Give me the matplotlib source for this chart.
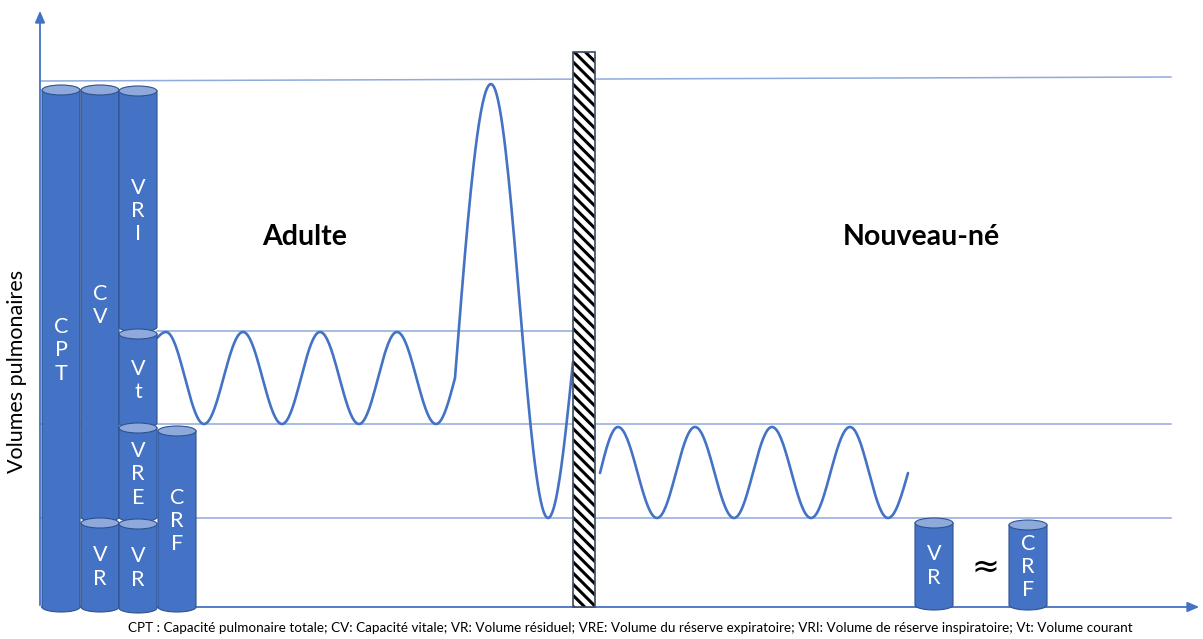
import numpy as np
import matplotlib
matplotlib.use("Agg")
import matplotlib.pyplot as plt
from matplotlib.patches import Polygon, Ellipse, Rectangle

plt.rcParams['font.family'] = ['Lato', 'DejaVu Sans']
plt.rcParams['hatch.linewidth'] = 2.2

BLUE = "#4472C4"
LIGHT = "#8FAADC"
TOPC = "#8EA9DB"
EDGE = "#2F528F"

# cylinders (labels, left edge, top, bottom) in picture units
cyl_labels = ["CPT", "CV", "VRI", "Vt", "VRE", "VR", "VR", "CRF", "VR", "CRF"]
cyl_left = [42, 81, 119, 119, 119, 81, 119, 158, 915, 1009]
cyl_top = [90, 90, 91, 334, 428, 523, 524, 431, 523, 525]
cyl_bottom = [607, 517, 327, 423, 517, 607, 608, 607, 605, 605]
cyl_w = 38
cap_h = 10

# breathing curves: key points (x, y, is_extremum)
adult_x = [157, 166, 204, 243, 282, 320, 359, 397, 436, 455, 491, 548, 573]
adult_y = [338, 332, 424, 332, 424, 332, 424, 332, 424, 378, 84, 518, 362]
adult_ext = [0, 1, 1, 1, 1, 1, 1, 1, 1, 0, 1, 1, 0]
baby_x = [600, 618, 657, 695, 734, 772, 811, 850, 888, 908]
baby_y = [473, 427, 518, 427, 518, 427, 518, 427, 518, 473]
baby_ext = [0, 1, 1, 1, 1, 1, 1, 1, 1, 0]

# reference lines: (x0, x1, y0, y1)
ref_lines = [(40, 1171, 81, 77), (157, 573, 331, 331),
             (40, 1171, 424, 424), (40, 1171, 518, 518)]

footnote = ("CPT : Capacité pulmonaire totale; CV: Capacité vitale; VR: Volume résiduel; "
            "VRE: Volume du réserve expiratoire; VRI: Volume de réserve inspiratoire; Vt: Volume courant")


def curve(xs, ys, ext):
    px, py = [], []
    for i in range(len(xs) - 1):
        t = np.linspace(0, 1, 40)
        a, b = ext[i], ext[i + 1]
        if a and b:
            s = (1 - np.cos(np.pi * t)) / 2
        elif a:
            s = 1 - np.cos(np.pi / 2 * t)
        elif b:
            s = np.sin(np.pi / 2 * t)
        else:
            s = t
        px += list(xs[i] + (xs[i + 1] - xs[i]) * t)
        py += list(ys[i] + (ys[i + 1] - ys[i]) * s)
    return px, py


def cylinder(ax, x0, top, bottom, label):
    cx = x0 + cyl_w / 2
    th = np.linspace(0, np.pi, 30)
    bot_arc = np.c_[cx - cyl_w / 2 * np.cos(th), bottom + cap_h / 2 * np.sin(th)]
    body = np.vstack([[x0, top], bot_arc, [x0 + cyl_w, top]])
    ax.add_patch(Polygon(body, closed=True, fc=BLUE, ec=EDGE, lw=0.8, zorder=4))
    ax.add_patch(Ellipse((cx, top), cyl_w, cap_h, fc=TOPC, ec=EDGE, lw=0.8, zorder=5))
    ax.text(cx, (top + bottom) / 2 + 2, "\n".join(label), color="white", fontsize=15.5,
            ha="center", va="center", linespacing=1.2, zorder=6)


fig = plt.figure(figsize=(12.03, 6.39), dpi=100)
ax = fig.add_axes([0, 0, 1, 1])
ax.set_xlim(0, 1203)
ax.set_ylim(639, 0)
ax.axis("off")

for x0, x1, y0, y1 in ref_lines:
    ax.plot([x0, x1], [y0, y1], color=LIGHT, lw=1.1, zorder=1)

for x0, top, bottom, lab in zip(cyl_left, cyl_top, cyl_bottom, cyl_labels):
    cylinder(ax, x0, top, bottom, lab)

for xs, ys, ex in [(adult_x, adult_y, adult_ext), (baby_x, baby_y, baby_ext)]:
    px, py = curve(xs, ys, ex)
    ax.plot(px, py, color=BLUE, lw=1.9, zorder=3, solid_capstyle="round")

# separator bar
ax.add_patch(Rectangle((573, 52), 22, 555, fc="white", ec="black", lw=0.3,
                       hatch="\\\\\\", zorder=7))
ax.add_patch(Rectangle((573, 52), 22, 555, fc="none", ec="#44546A", lw=1.2, zorder=8))

# axes arrows
ax.annotate("", xy=(40, 8), xytext=(40, 608),
            arrowprops=dict(arrowstyle="-|>,head_length=0.7,head_width=0.3", color=BLUE, lw=1.3),
            zorder=2)
ax.annotate("", xy=(1202, 607), xytext=(39, 607),
            arrowprops=dict(arrowstyle="-|>,head_length=0.7,head_width=0.3", color=BLUE, lw=1.3),
            zorder=2)

ax.text(305, 237, "Adulte", fontsize=20.5, fontweight="bold", ha="center", va="center")
ax.text(921, 237, "Nouveau-né", fontsize=20.5, fontweight="bold", ha="center", va="center")
ax.text(985, 567, "≈", fontsize=24, ha="center", va="center", family="DejaVu Sans")
ax.text(17, 371, "Volumes pulmonaires", fontsize=15.5, rotation=90, ha="center", va="center")
ax.text(630, 628, footnote, fontsize=9.7, ha="center", va="center")

fig.savefig("out.png", dpi=100)
